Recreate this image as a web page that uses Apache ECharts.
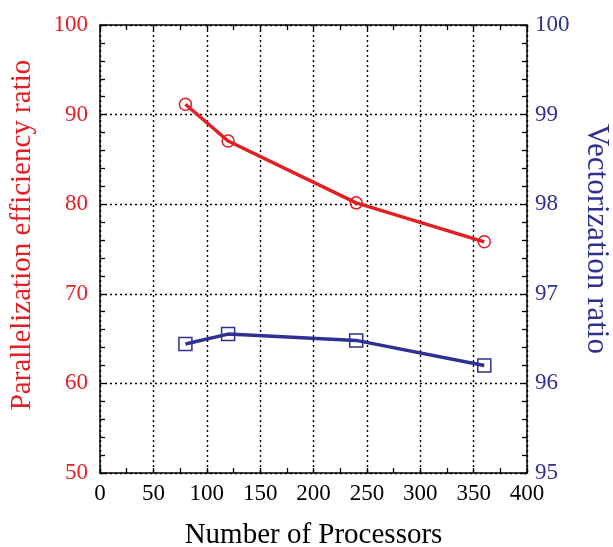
<!DOCTYPE html>
<html>
<head>
<meta charset="utf-8">
<script src="https://cdn.jsdelivr.net/npm/echarts@6/dist/echarts.min.js"></script>
<style>html,body{margin:0;padding:0;background:#fff;}#c{width:613px;height:547px;}</style>
</head>
<body>
<div id="c"></div>
<script>
const processors = [80, 120, 240, 360];
const parallelEfficiency = [91.15, 87.05, 80.15, 75.8];
const vectorizationRatio = [96.44, 96.55, 96.48, 96.2];
const xTicks = [0, 50, 100, 150, 200, 250, 300, 350, 400];

const RED = '#e31e24';
const BLUE = '#2e3192';
const FONT = 'Liberation Serif';

const chart = echarts.init(document.getElementById('c'), null, {renderer: 'canvas'});
function axisLine() { return {show: true, onZero: false, lineStyle: {color: '#000', width: 1.5}}; }
function grid() { return {show: true, lineStyle: {color: '#000', type: [2, 3], width: 1.4}}; }
// tick-only axes: pushed 5px into the plot, with outward ticks reaching back to the frame
function tickAxis(pos, min, max, interval) {
  return {
    type: 'value', position: pos, min: min, max: max, interval: interval, offset: -5,
    axisLine: {show: false, onZero: false},
    axisTick: {show: true, inside: false, length: 5, lineStyle: {color: '#000', width: 1.3}},
    axisLabel: {show: false}, splitLine: {show: false}
  };
}

chart.setOption({
  animation: false,
  backgroundColor: '#fff',
  grid: {left: 100, right: 86, top: 25, bottom: 74, show: false, containLabel: false, outerBoundsMode: 'none'},
  xAxis: [{
    type: 'value', min: xTicks[0], max: xTicks[xTicks.length - 1], interval: 50,
    name: 'Number of Processors', nameLocation: 'middle', nameGap: 48,
    nameTextStyle: {fontFamily: FONT, fontSize: 29, color: '#000'},
    axisLine: axisLine(),
    axisTick: {show: false},
    axisLabel: {fontFamily: FONT, fontSize: 23, color: '#000', margin: 9},
    splitLine: grid()
  }, {
    type: 'value', position: 'top', min: 0, max: 400, interval: 50,
    axisLine: axisLine(),
    axisTick: {show: false},
    axisLabel: {show: false},
    splitLine: {show: false}
  },
  tickAxis('bottom', 0, 400, 25),
  tickAxis('top', 0, 400, 25)],
  yAxis: [{
    type: 'value', min: 50, max: 100, interval: 10, position: 'left',
    name: 'Parallelization efficiency ratio', nameLocation: 'middle', nameGap: 63,
    nameTextStyle: {fontFamily: FONT, fontSize: 29, color: RED, padding: [0, 0, 0, 28]},
    axisLine: axisLine(),
    axisTick: {show: false},
    axisLabel: {fontFamily: FONT, fontSize: 23, color: RED, margin: 12},
    splitLine: grid()
  }, {
    type: 'value', min: 95, max: 100, interval: 1, position: 'right',
    name: 'Vectorization ratio', nameLocation: 'middle', nameGap: 51, nameRotate: -90,
    nameTextStyle: {fontFamily: FONT, fontSize: 31, color: BLUE, padding: [0, 20, 0, 0]},
    axisLine: axisLine(),
    axisTick: {show: false},
    axisLabel: {fontFamily: FONT, fontSize: 23, color: BLUE, margin: 8},
    splitLine: {show: false}
  },
  tickAxis('left', 50, 100, 2),
  tickAxis('right', 50, 100, 2)],
  series: [{
    type: 'line', xAxisIndex: 0, yAxisIndex: 0,
    data: processors.map((x, i) => [x, parallelEfficiency[i]]),
    symbol: 'circle', symbolSize: 12,
    lineStyle: {color: RED, width: 3.5},
    itemStyle: {color: 'rgba(255,255,255,0)', borderColor: RED, borderWidth: 1.5}
  }, {
    type: 'line', xAxisIndex: 0, yAxisIndex: 1,
    data: processors.map((x, i) => [x, vectorizationRatio[i]]),
    symbol: 'rect', symbolSize: 13,
    lineStyle: {color: BLUE, width: 3.5},
    itemStyle: {color: 'rgba(255,255,255,0)', borderColor: BLUE, borderWidth: 1.5}
  }]
});
</script>
</body>
</html>
